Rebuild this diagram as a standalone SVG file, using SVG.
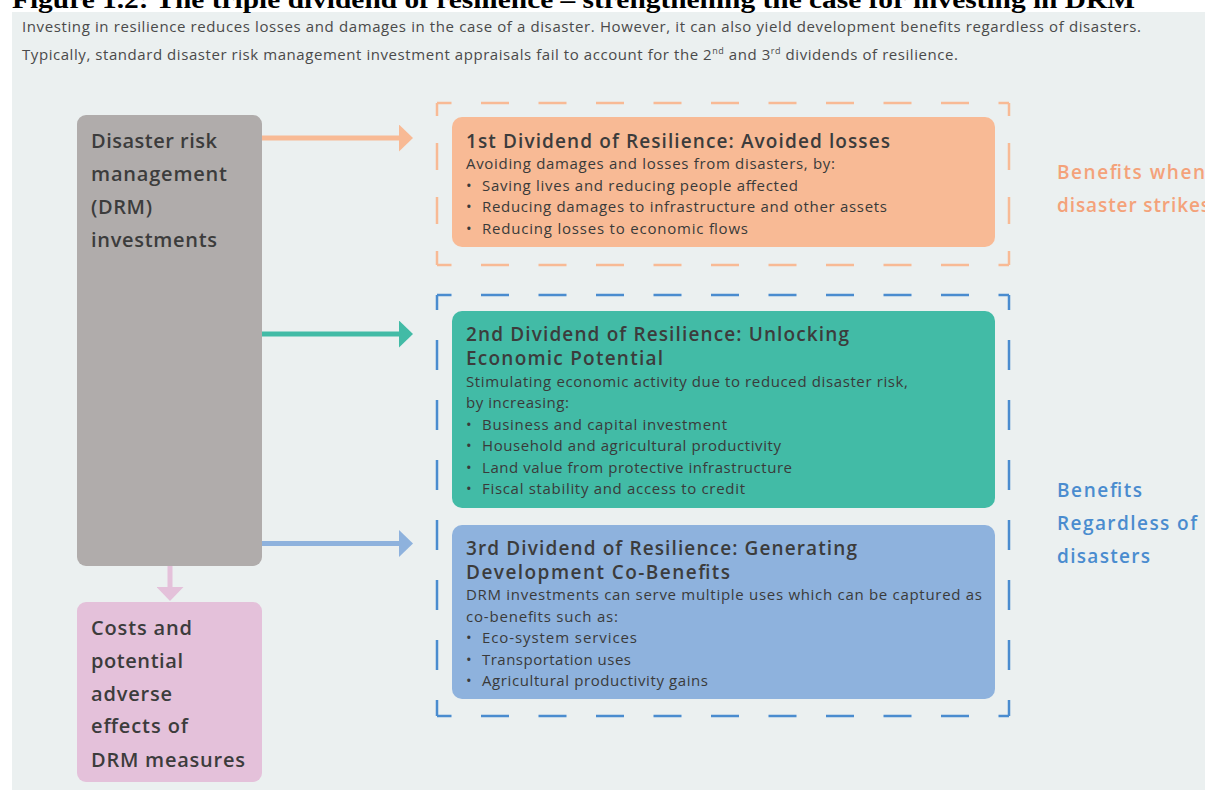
<svg xmlns="http://www.w3.org/2000/svg" width="1205" height="791" viewBox="0 0 1205 791">
<defs>
<style>
.title{font-family:"Liberation Serif","Times New Roman",serif;font-weight:bold;font-size:26px;fill:#000}
.sub{font-family:"Open Sans","Liberation Sans",sans-serif;font-size:15px;fill:#4a4a4a}
.big{font-family:"Open Sans","Liberation Sans",sans-serif;font-weight:600;font-size:20px;fill:#3c3c3c}
.h{font-family:"Open Sans","Liberation Sans",sans-serif;font-weight:600;font-size:19px;fill:#3c3c3c}
.b{font-family:"Open Sans","Liberation Sans",sans-serif;font-size:15px;fill:#3a3a3a}
.lblo{font-family:"Open Sans","Liberation Sans",sans-serif;font-weight:600;font-size:19px;fill:#f4a27a}
.lblb{font-family:"Open Sans","Liberation Sans",sans-serif;font-weight:600;font-size:19px;fill:#4a8ccf}
.shaft{stroke-width:5;fill:none}
</style>
<marker id="hO" markerUnits="userSpaceOnUse" markerWidth="14" markerHeight="27" refX="1" refY="13.5" orient="auto"><path d="M0,0 L14,13.5 L0,27 Z" fill="#f8ba95"/></marker>
<marker id="hT" markerUnits="userSpaceOnUse" markerWidth="14" markerHeight="27" refX="1" refY="13.5" orient="auto"><path d="M0,0 L14,13.5 L0,27 Z" fill="#42bba6"/></marker>
<marker id="hB" markerUnits="userSpaceOnUse" markerWidth="14" markerHeight="27" refX="1" refY="13.5" orient="auto"><path d="M0,0 L14,13.5 L0,27 Z" fill="#8eb2dd"/></marker>
<marker id="hP" markerUnits="userSpaceOnUse" markerWidth="14" markerHeight="27" refX="1" refY="13.5" orient="auto"><path d="M0,0 L14,13.5 L0,27 Z" fill="#e4c1da"/></marker>
</defs>
<rect x="0" y="0" width="1205" height="791" fill="#ffffff"/>
<rect x="12" y="12" width="1193" height="778" fill="#ebf0f0"/>
<text class="title" x="12" y="8" textLength="1123" lengthAdjust="spacingAndGlyphs">Figure 1.2: The triple dividend of resilience – strengthening the case for investing in DRM</text>
<text class="sub" x="22" y="32" textLength="1119">Investing in resilience reduces losses and damages in the case of a disaster. However, it can also yield development benefits regardless of disasters.</text>
<text class="sub" x="22" y="60" textLength="936">Typically, standard disaster risk management investment appraisals fail to account for the 2<tspan font-size="9" dy="-6">nd</tspan><tspan dy="6"> and 3</tspan><tspan font-size="9" dy="-6">rd</tspan><tspan dy="6"> dividends of resilience.</tspan></text>

<g id="dashed-frames" fill="none" stroke-width="2.5">
<g stroke="#f8ba95">
<path d="M437,103 H1009" stroke-dasharray="28 29.5" stroke-dashoffset="13.5"/>
<path d="M437,265 H1009" stroke-dasharray="28 29.5" stroke-dashoffset="13.5"/>
<path d="M437,103 V265" stroke-dasharray="27 27" stroke-dashoffset="14"/>
<path d="M1009,103 V265" stroke-dasharray="27 27" stroke-dashoffset="14"/>
</g>
<g stroke="#4a8ccf">
<path d="M437,295 H1009" stroke-dasharray="28 29.5" stroke-dashoffset="13.5"/>
<path d="M437,716 H1009" stroke-dasharray="28 29.5" stroke-dashoffset="13.5"/>
<path d="M437,295 V716" stroke-dasharray="30 30" stroke-dashoffset="15"/>
<path d="M1009,295 V716" stroke-dasharray="30 30" stroke-dashoffset="15"/>
</g>
</g>

<g id="connectors">
<line class="shaft" x1="262" y1="138" x2="400" y2="138" stroke="#f8ba95" marker-end="url(#hO)"/>
<line class="shaft" x1="262" y1="334" x2="400" y2="334" stroke="#42bba6" marker-end="url(#hT)"/>
<line class="shaft" x1="262" y1="543.5" x2="400" y2="543.5" stroke="#8eb2dd" marker-end="url(#hB)"/>
<line class="shaft" x1="170" y1="565" x2="170" y2="588" stroke="#e4c1da" marker-end="url(#hP)"/>
</g>

<g id="drm-investments">
<rect x="77" y="115" width="185" height="451" rx="9" fill="#b0acab"/>
<text class="big" x="91" y="148" textLength="126">Disaster risk</text>
<text class="big" x="91" y="181" textLength="136">management</text>
<text class="big" x="91" y="214" textLength="61">(DRM)</text>
<text class="big" x="91" y="247" textLength="126">investments</text>
</g>

<g id="costs">
<rect x="77" y="602" width="185" height="180" rx="9" fill="#e4c1da"/>
<text class="big" x="91" y="635" textLength="101">Costs and</text>
<text class="big" x="91" y="668" textLength="92">potential</text>
<text class="big" x="91" y="701" textLength="81">adverse</text>
<text class="big" x="91" y="733" textLength="97">effects of</text>
<text class="big" x="91" y="767" textLength="154">DRM measures</text>
</g>

<g id="dividend-1">
<rect x="452" y="117" width="543" height="130" rx="10" fill="#f8ba95"/>
<text class="h" x="466" y="148" textLength="424">1st Dividend of Resilience: Avoided losses</text>
<text class="b" x="466" y="169" textLength="369">Avoiding damages and losses from disasters, by:</text>
<text class="b" x="466" y="191">•</text><text class="b" x="482" y="191" textLength="316">Saving lives and reducing people affected</text>
<text class="b" x="466" y="212">•</text><text class="b" x="482" y="212" textLength="405">Reducing damages to infrastructure and other assets</text>
<text class="b" x="466" y="234">•</text><text class="b" x="482" y="234" textLength="266">Reducing losses to economic flows</text>
</g>

<g id="dividend-2">
<rect x="452" y="311" width="543" height="197" rx="10" fill="#42bba6"/>
<text class="h" x="466" y="341" textLength="383">2nd Dividend of Resilience: Unlocking</text>
<text class="h" x="466" y="365" textLength="197">Economic Potential</text>
<text class="b" x="466" y="387" textLength="442">Stimulating economic activity due to reduced disaster risk,</text>
<text class="b" x="466" y="408" textLength="103">by increasing:</text>
<text class="b" x="466" y="430">•</text><text class="b" x="482" y="430" textLength="245">Business and capital investment</text>
<text class="b" x="466" y="451">•</text><text class="b" x="482" y="451" textLength="299">Household and agricultural productivity</text>
<text class="b" x="466" y="473">•</text><text class="b" x="482" y="473" textLength="310">Land value from protective infrastructure</text>
<text class="b" x="466" y="494">•</text><text class="b" x="482" y="494" textLength="263">Fiscal stability and access to credit</text>
</g>

<g id="dividend-3">
<rect x="452" y="525" width="543" height="174" rx="10" fill="#8eb2dd"/>
<text class="h" x="466" y="555" textLength="391">3rd Dividend of Resilience: Generating</text>
<text class="h" x="466" y="579" textLength="264">Development Co-Benefits</text>
<text class="b" x="466" y="600" textLength="516">DRM investments can serve multiple uses which can be captured as</text>
<text class="b" x="466" y="622" textLength="152">co-benefits such as:</text>
<text class="b" x="466" y="643">•</text><text class="b" x="482" y="643" textLength="155">Eco-system services</text>
<text class="b" x="466" y="665">•</text><text class="b" x="482" y="665" textLength="149">Transportation uses</text>
<text class="b" x="466" y="686">•</text><text class="b" x="482" y="686" textLength="226">Agricultural productivity gains</text>
</g>

<g id="label-disaster">
<text class="lblo" x="1057" y="179" textLength="148">Benefits when</text>
<text class="lblo" x="1057" y="212" textLength="153">disaster strikes</text>
</g>

<g id="label-regardless">
<text class="lblb" x="1057" y="497" textLength="85">Benefits</text>
<text class="lblb" x="1057" y="530" textLength="140">Regardless of</text>
<text class="lblb" x="1057" y="563" textLength="93">disasters</text>
</g>
</svg>
